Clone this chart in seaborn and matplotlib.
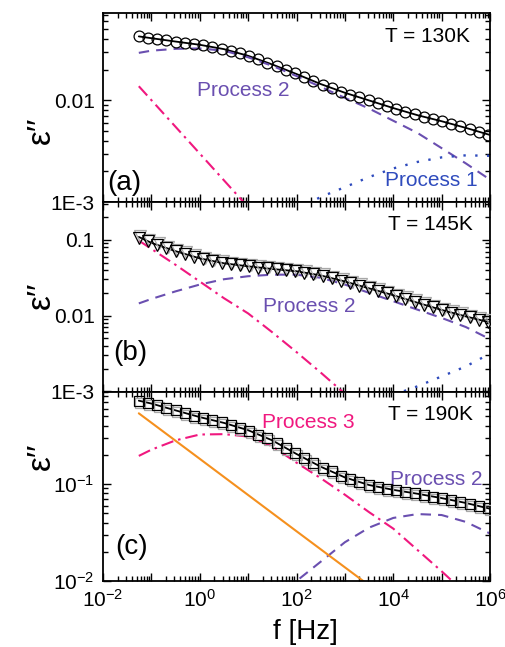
import matplotlib
matplotlib.use("Agg")
import numpy as np
import pandas as pd
import matplotlib.pyplot as plt
import matplotlib.ticker as mticker
from matplotlib.transforms import offset_copy
import seaborn as sns

# ---------------- measured loss spectra ----------------
freq_data = [0.055, 0.0851, 0.132, 0.204, 0.316, 0.49, 0.759, 1.17, 1.82, 2.82,
             4.37, 6.76, 10.5, 16.2, 25.1, 38.9, 60.3, 93.3, 145, 224,
             347, 537, 832, 1290, 2000, 3090, 4790, 7410, 11500, 17800,
             27500, 42700, 66100, 102000, 158000, 245000, 380000, 589000, 912000]

eps_130K = [0.0427, 0.0415, 0.0403, 0.0392, 0.038, 0.037, 0.036, 0.0349, 0.0337, 0.0324,
            0.0309, 0.0292, 0.0274, 0.0254, 0.0236, 0.0218, 0.02, 0.0185, 0.0169, 0.0155,
            0.0142, 0.0132, 0.0122, 0.0114, 0.0107, 0.01, 0.0094, 0.00881, 0.00826, 0.00776,
            0.0073, 0.0069, 0.00656, 0.00622, 0.00589, 0.00555, 0.00525, 0.00492, 0.00461]

eps_145K = [0.107, 0.0955, 0.0855, 0.0776, 0.0708, 0.065, 0.06, 0.0556, 0.0525, 0.0497,
            0.0476, 0.046, 0.0445, 0.043, 0.0419, 0.0407, 0.0396, 0.0386, 0.037, 0.0352,
            0.0334, 0.0311, 0.029, 0.0269, 0.0249, 0.023, 0.0213, 0.0197, 0.0181, 0.0166,
            0.0152, 0.014, 0.0129, 0.0118, 0.011, 0.0102, 0.00948, 0.00881, 0.00826]

eps_190K = [0.724, 0.689, 0.649, 0.61, 0.575, 0.541, 0.509, 0.481, 0.456, 0.433,
            0.406, 0.38, 0.356, 0.324, 0.296, 0.266, 0.236, 0.208, 0.185, 0.166,
            0.148, 0.135, 0.122, 0.113, 0.105, 0.0982, 0.0938, 0.0897, 0.0861, 0.0832,
            0.0804, 0.0773, 0.0743, 0.0715, 0.0684, 0.0655, 0.0624, 0.0592, 0.0562]

# ---------------- fitted model and its components ----------------
freq_fit = [0.055, 0.1, 0.316, 1, 3.16, 10, 31.6, 100, 316, 1000,
            3160, 1e4, 3.16e4, 1e5, 3.16e5, 1e6]

fit_130K = [0.0427, 0.041, 0.038, 0.0353, 0.032, 0.0275, 0.0226, 0.0182, 0.0145, 0.0119,
            0.01, 0.00841, 0.00716, 0.00624, 0.00537, 0.00457]
proc2_130K = [0.0294, 0.0309, 0.0322, 0.0325, 0.0309, 0.0266, 0.0219, 0.0174, 0.0136, 0.0106,
              0.00832, 0.00631, 0.00479, 0.00339, 0.0024, 0.00166]

fit_145K = [0.109, 0.0912, 0.0708, 0.0569, 0.049, 0.0447, 0.0412, 0.0385, 0.0339, 0.0282,
            0.0229, 0.0186, 0.0148, 0.0119, 0.00977, 0.00813]
proc2_145K = [0.0145, 0.0166, 0.0209, 0.0257, 0.0302, 0.0331, 0.0347, 0.0347, 0.0316, 0.0257,
              0.02, 0.0155, 0.012, 0.00933, 0.00708, 0.0049]

fit_190K = [0.724, 0.676, 0.575, 0.49, 0.427, 0.359, 0.282, 0.204, 0.151, 0.117,
            0.0977, 0.0871, 0.0794, 0.0716, 0.0638, 0.0556]
proc3_190K = [0.195, 0.226, 0.282, 0.324, 0.327, 0.309, 0.245, 0.166, 0.115, 0.0776,
              0.0513, 0.0347, 0.0209, 0.0126, 0.00741, 0.0045]

# process 1 (high-frequency relaxation)
freq_p1_130K = [100, 200, 316, 1000, 3160, 1e4, 3.16e4, 1e5, 3.16e5, 1e6]
proc1_130K = [0.00083, 0.001, 0.00112, 0.0014, 0.00176, 0.00214, 0.00248, 0.00275, 0.00288, 0.00285]
freq_p1_145K = [1e4, 1.58e4, 3.16e4, 1e5, 3.16e5, 1e6]
proc1_145K = [0.00087, 0.001, 0.00117, 0.00158, 0.00214, 0.00316]

# low-frequency flank (process 3) at 130 K and 145 K
freq_p3_130K = [0.055, 0.316, 1, 10]
proc3_130K = [0.0138, 0.0055, 0.003, 0.000891]
freq_p3_145K = [0.055, 0.316, 1, 3.16, 10, 31.6, 100, 316, 1000]
proc3_145K = [0.0977, 0.0468, 0.0282, 0.017, 0.0107, 0.00603, 0.00331, 0.00178, 0.000933]

# process 2 at 190 K and dc conductivity
freq_p2_190K = [31.6, 100, 316, 1000, 3160, 1e4, 3.16e4, 1e5, 3.16e5, 1e6]
proc2_190K = [0.0063, 0.01, 0.0158, 0.0251, 0.0355, 0.0447, 0.049, 0.0479, 0.0407, 0.0309]
freq_dc = [0.055, 1, 100, 3160]
dc_190K = [0.536, 0.182, 0.0326, 0.00902]

# ---------------- axis ticks ----------------
x_ticks = [1e-2, 1e-1, 1e0, 1e1, 1e2, 1e3, 1e4, 1e5, 1e6]
x_tick_labels = ['$10^{-2}$', '', '$10^{0}$', '', '$10^{2}$', '', '$10^{4}$', '', '$10^{6}$']
y_ticks_a, y_labels_a = [1e-3, 1e-2], ['1E-3', '0.01']
y_ticks_b, y_labels_b = [1e-3, 1e-2, 1e-1], ['1E-3', '0.01', '0.1']
y_ticks_c, y_labels_c = [1e-2, 1e-1], ['$10^{-2}$', '$10^{-1}$']

# ---------------- style ----------------
sns.set_theme(style="ticks")
plt.rcParams['font.family'] = ['Liberation Sans', 'DejaVu Sans']
plt.rcParams['mathtext.default'] = 'regular'
plt.rcParams['axes.linewidth'] = 1.3
plt.rcParams['text.color'] = 'black'
plt.rcParams['axes.labelcolor'] = 'black'
plt.rcParams['xtick.color'] = 'black'
plt.rcParams['ytick.color'] = 'black'
plt.rcParams['axes.edgecolor'] = 'black'

PURPLE = '#6a4fb0'
BLUE = '#2f4bbd'
PINK = '#f0187f'
ORANGE = '#f5901e'
SHADOW = '#a8a8a8'

DASH = (0, (5.0, 3.4))
DASHDOT = (0, (6.0, 2.4, 1.2, 2.4))
DOT = (0, (1.0, 4.0))

fig = plt.figure(figsize=(5.05, 6.47), dpi=100)
W, H = 505, 647
left, right = 103, 490
tops = [12.5, 202, 391.5]
ph = 189.5
axes = []
for t in tops:
    axes.append(fig.add_axes([left / W, 1 - (t + ph) / H, (right - left) / W, ph / H]))
ax_a, ax_b, ax_c = axes


def line(ax, x, y, color, ls, lw=1.5):
    df = pd.DataFrame({'f': x, 'eps': y})
    sns.lineplot(data=df, x='f', y='eps', ax=ax, color=color, linestyle=ls,
                 linewidth=lw, sort=False, estimator=None)


def points(ax, x, y, marker, ms, shadow=None):
    df = pd.DataFrame({'f': x, 'eps': y})
    if shadow is not None:
        tr = offset_copy(ax.transData, fig=fig, x=shadow[0], y=shadow[1], units='dots')
        sns.lineplot(data=df, x='f', y='eps', ax=ax, linestyle='none', marker=marker,
                     markersize=ms, mfc='none', mec=SHADOW, mew=0.9,
                     sort=False, estimator=None, zorder=3, transform=tr)
    sns.lineplot(data=df, x='f', y='eps', ax=ax, linestyle='none', marker=marker,
                 markersize=ms, mfc='none', mec='black', mew=0.9,
                 sort=False, estimator=None, zorder=4)


for ax in axes:
    ax.set_xscale('log')
    ax.set_yscale('log')

# (a) 130 K
points(ax_a, freq_data, eps_130K, 'o', 7.8)
line(ax_a, freq_fit, fit_130K, 'black', '-', 1.3)
line(ax_a, freq_fit, proc2_130K, PURPLE, DASH)
line(ax_a, freq_p1_130K, proc1_130K, BLUE, DOT, 1.7)
line(ax_a, freq_p3_130K, proc3_130K, PINK, DASHDOT)

# (b) 145 K
points(ax_b, freq_data, eps_145K, 'v', 8.5, shadow=(1.5, 1.5))
line(ax_b, freq_fit, fit_145K, 'black', '-', 1.3)
line(ax_b, freq_fit, proc2_145K, PURPLE, DASH)
line(ax_b, freq_p1_145K, proc1_145K, BLUE, DOT, 1.7)
line(ax_b, freq_p3_145K, proc3_145K, PINK, DASHDOT)

# (c) 190 K
points(ax_c, freq_data, eps_190K, 's', 7.0, shadow=(1.5, -2.0))
line(ax_c, freq_fit, fit_190K, 'black', '-', 1.3)
line(ax_c, freq_fit, proc3_190K, PINK, DASHDOT)
line(ax_c, freq_p2_190K, proc2_190K, PURPLE, DASH)
line(ax_c, freq_dc, dc_190K, ORANGE, '-', 1.5)

ax_a.set_ylim(1e-3, 0.0734)
ax_b.set_ylim(1e-3, 0.315)
ax_c.set_ylim(1e-2, 0.9)

for ax, yt, yl in [(ax_a, y_ticks_a, y_labels_a), (ax_b, y_ticks_b, y_labels_b),
                   (ax_c, y_ticks_c, y_labels_c)]:
    ax.set_xlim(1e-2, 1e6)
    ax.set_xticks(x_ticks, labels=x_tick_labels)
    ax.xaxis.set_minor_locator(mticker.LogLocator(base=10, subs=np.arange(2, 10), numticks=50))
    ax.xaxis.set_minor_formatter(mticker.NullFormatter())
    ax.set_yticks(yt, labels=yl)
    ax.yaxis.set_minor_locator(mticker.LogLocator(base=10, subs=np.arange(2, 10), numticks=50))
    ax.yaxis.set_minor_formatter(mticker.NullFormatter())
    ax.tick_params(which='both', direction='in', top=True, right=True, width=1.0,
                   labelsize=15, colors='black', pad=6)
    ax.tick_params(which='major', length=6)
    ax.tick_params(which='minor', length=3.5)
    ax.set_xlabel('')
    ax.set_ylabel('ε′′', fontsize=24, labelpad=0)
    for s in ax.spines.values():
        s.set_visible(True)
        s.set_linewidth(1.3)
        s.set_color('black')

ax_a.tick_params(labelbottom=False)
ax_b.tick_params(labelbottom=False)

ax_a.yaxis.set_label_coords(-0.12, 0.38)
ax_b.yaxis.set_label_coords(-0.12, 0.51)
ax_c.yaxis.set_label_coords(-0.12, 0.66)

ax_c.set_xlabel('f [Hz]', fontsize=20)
ax_c.xaxis.set_label_coords(0.522, -0.2)

# annotations
txt = dict(fontsize=15, va='center')
ax_a.text(0.948, 0.871, 'T = 130K', transform=ax_a.transAxes, ha='right', **txt)
ax_a.text(0.243, 0.591, 'Process 2', color=PURPLE, transform=ax_a.transAxes, ha='left', **txt)
ax_a.text(0.729, 0.116, 'Process 1', color=BLUE, transform=ax_a.transAxes, ha='left', **txt)
ax_a.text(0.010, 0.10, '(a)', transform=ax_a.transAxes, ha='left', fontsize=20, va='center')

ax_b.text(0.956, 0.879, 'T = 145K', transform=ax_b.transAxes, ha='right', **txt)
ax_b.text(0.413, 0.446, 'Process 2', color=PURPLE, transform=ax_b.transAxes, ha='left', **txt)
ax_b.text(0.026, 0.203, '(b)', transform=ax_b.transAxes, ha='left', fontsize=20, va='center')

ax_c.text(0.956, 0.876, 'T = 190K', transform=ax_c.transAxes, ha='right', **txt)
ax_c.text(0.411, 0.839, 'Process 3', color=PINK, transform=ax_c.transAxes, ha='left', **txt)
ax_c.text(0.742, 0.533, 'Process 2', color=PURPLE, transform=ax_c.transAxes, ha='left', **txt)
ax_c.text(0.031, 0.179, '(c)', transform=ax_c.transAxes, ha='left', fontsize=20, va='center')

fig.savefig('out.png', dpi=100)
